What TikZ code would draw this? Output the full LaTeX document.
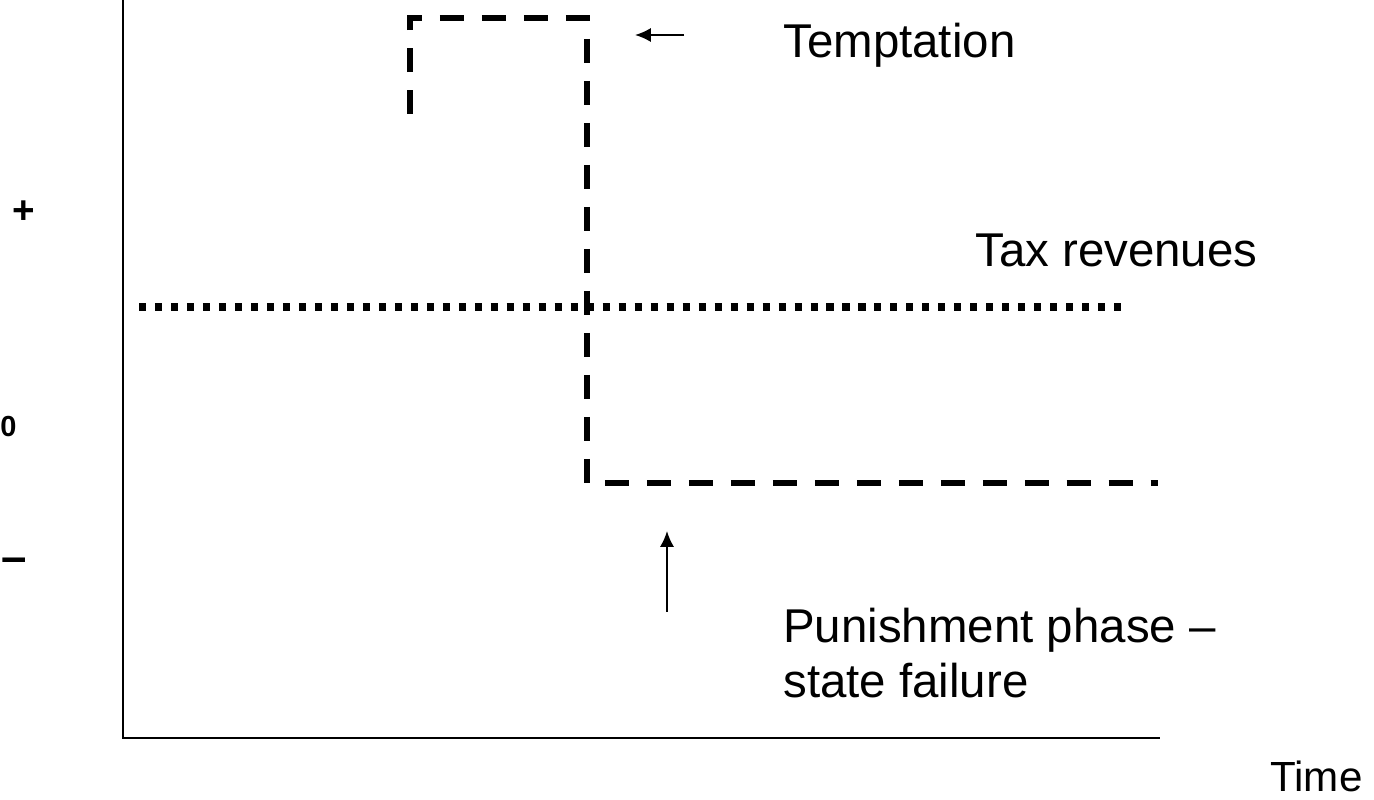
\documentclass[tikz,border=0pt]{standalone}
\usepackage{fontspec}
\setmainfont{Liberation Sans}
\usetikzlibrary{arrows.meta}

\tikzset{
    axisline/.style={line width=1.7pt},
    pathline/.style={line width=3.4pt,dash pattern=on 13.7pt off 10.2pt},
    taxline/.style={line width=4pt,dash pattern=on 4pt off 5.1pt},
    pointer/.style={line width=1.1pt,-{Latex[length=9pt,width=8pt]}},
    lbl/.style={inner sep=0pt,font=\fontsize{27}{31}\selectfont},
    tick/.style={inner sep=0pt,font=\fontsize{16.5}{18}\selectfont\bfseries},
}

\begin{document}
\begin{tikzpicture}[x=0.02cm,y=-0.02cm]
        \useasboundingbox (0,0) rectangle (1374,800);
        % 坐标轴
        \coordinate (O) at (123,738);
        \coordinate (Ytop) at (123,0);
        \coordinate (Xend) at (1160,738);
        \draw [axisline] (Ytop) -- (O) -- (Xend);
        % 纵轴刻度 +, 0, -
        \node [tick,font=\fontsize{22}{24}\selectfont\bfseries] (plus) at (24,212) {+};
        \node [tick,anchor=base west] (zero) at (0,437) {0};
        \node [tick,font=\fontsize{26}{28}\selectfont\bfseries,anchor=base west] (minus) at (1,573) {--};
        % 税收: 点线
        \coordinate (T1) at (139,307);
        \coordinate (T2) at (1124,307);
        \draw [taxline] (T1) -- (T2);
        % 诱惑与惩罚: 虚线
        \coordinate (P1) at (410,114);
        \coordinate (P2) at (410,18);
        \coordinate (P3) at (587,18);
        \coordinate (P4) at (587,483);
        \coordinate (P5) at (1158,483);
        \draw [pathline] (P1) -- (P2) -- (P3) -- (P4) -- (P5);
        % 文字
        \node [lbl,anchor=base west] (tempt) at (783,58) {Temptation};
        \node [lbl,anchor=base west] (tax) at (975,267) {Tax revenues};
        \node [lbl,anchor=base west] (pun) at (783,643) {Punishment phase --};
        \node [lbl,anchor=base west] (fail) at (783,698) {state failure};
        \node [lbl,font=\fontsize{24}{28}\selectfont,anchor=base west] (time) at (1270,791) {Time};
        % 箭头
        \coordinate (A1) at (684,35);
        \coordinate (A2) at (635,35);
        \draw [pointer] (A1) -- (A2);
        \coordinate (B1) at (667,612);
        \coordinate (B2) at (667,531);
        \draw [pointer] (B1) -- (B2);
    \end{tikzpicture}
\end{document}
